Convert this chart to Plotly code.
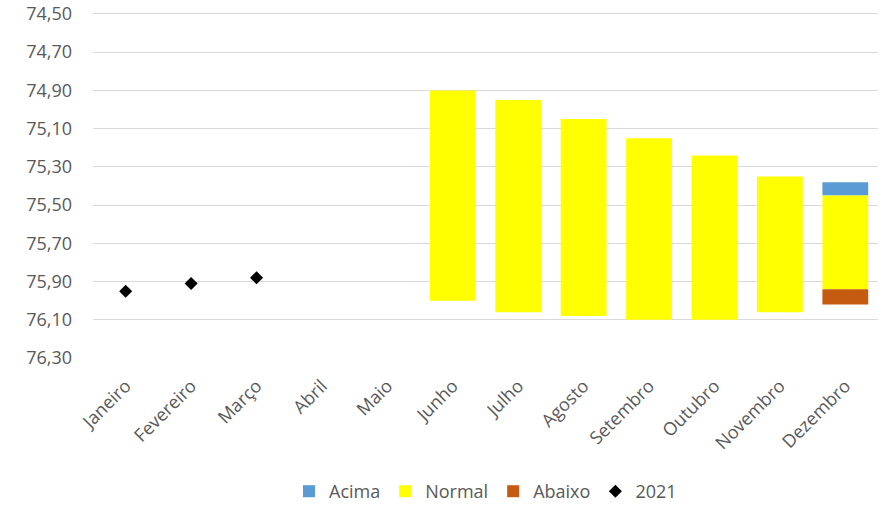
"""Faixas mensais (Acima / Normal / Abaixo) com valores de 2021."""

import plotly.graph_objects as go

months = ["Janeiro", "Fevereiro", "Março", "Abril", "Maio", "Junho",
          "Julho", "Agosto", "Setembro", "Outubro", "Novembro", "Dezembro"]

# floating bars: base (top of band) and height, y axis reversed
normal_base = [None, None, None, None, None, 74.90, 74.95, 75.05, 75.15, 75.24, 75.35, 75.45]
normal_height = [None, None, None, None, None, 1.10, 1.11, 1.03, 0.95, 0.86, 0.71, 0.49]
acima_base = [None] * 11 + [75.38]
acima_height = [None] * 11 + [0.07]
abaixo_base = [None] * 11 + [75.94]
abaixo_height = [None] * 11 + [0.08]

values_2021 = [75.95, 75.91, 75.88, None, None, None, None, None, None, None, None, None]

fig = go.Figure()
for name, base, height, color in (
    ("Acima", acima_base, acima_height, "#5b9bd5"),
    ("Normal", normal_base, normal_height, "#ffff00"),
    ("Abaixo", abaixo_base, abaixo_height, "#c55a11"),
):
    fig.add_trace(
        go.Bar(
            x=months,
            y=height,
            base=base,
            name=name,
            marker={"color": color, "line": {"width": 0}},
            width=0.7,
        )
    )

fig.add_trace(
    go.Scatter(
        x=months,
        y=values_2021,
        mode="markers",
        name="2021",
        marker={"symbol": "diamond", "size": 10, "color": "#000000"},
    )
)

fig.update_layout(
    width=890,
    height=512,
    barmode="overlay",
    separators=",.",
    paper_bgcolor="white",
    plot_bgcolor="white",
    margin={"l": 93, "r": 12, "t": 12, "b": 153},
    font={"family": "Open Sans, Liberation Sans, sans-serif", "size": 18, "color": "#595959"},
    legend={
        "orientation": "h",
        "x": 0.5,
        "xanchor": "center",
        "y": 0.04,
        "yref": "container",
        "yanchor": "middle",
        "font": {"size": 18, "color": "#595959"},
        "itemwidth": 30,
    },
    xaxis={
        "range": [-0.5, 11.5],
        "tickangle": -45,
        "showgrid": False,
        "showline": False,
        "ticks": "",
        "automargin": False,
        "ticklabelstandoff": 12,
    },
    yaxis={
        "range": [76.305, 74.49],
        "dtick": 0.2,
        "tick0": 74.5,
        "tickformat": ".2f",
        "gridcolor": "#d9d9d9",
        "zeroline": False,
        "showline": False,
        "ticks": "",
        "automargin": False,
        "ticklabelstandoff": 20,
    },
)

# drop the default 8px page margin so the figure fills the window exactly
fig.write_html(
    "out.html",
    config={"displayModeBar": False},
    post_script="document.body.style.margin = '0';",
)
